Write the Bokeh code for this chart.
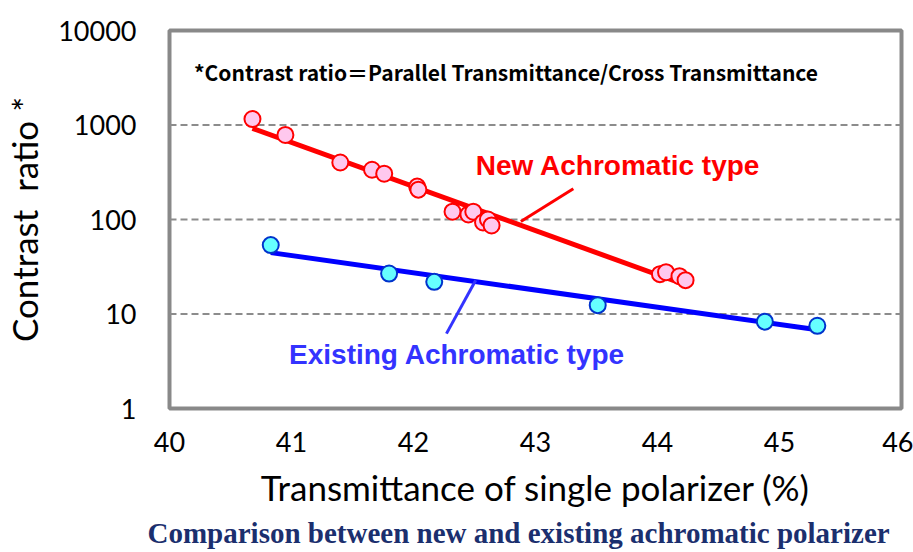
from bokeh.plotting import figure
from bokeh.models import FixedTicker, PrintfTickFormatter, Label, Title
from bokeh.embed import file_html
from bokeh.resources import INLINE

# ---- data ----
new_x = [40.68, 40.95, 41.40, 41.66, 41.76, 42.03, 42.04, 42.32, 42.45, 42.49,
         42.57, 42.61, 42.64, 44.02, 44.07, 44.18, 44.23]
new_y = [1156, 785, 401, 336, 305, 223, 207, 121, 113, 121,
         93, 100, 86.5, 26.4, 27.7, 25.1, 22.8]
old_x = [40.83, 41.80, 42.17, 43.51, 44.88, 45.31]
old_y = [53.6, 26.8, 21.9, 12.4, 8.3, 7.5]

new_fit_x = [40.68, 44.25]
new_fit_y = [923, 19.9]
old_fit_x = [40.83, 45.31]
old_fit_y = [44.6, 6.8]

new_call_x = [42.88, 43.31]
new_call_y = [95.3, 212]
old_call_x = [42.51, 42.27]
old_call_y = [22.8, 6.2]

x_ticks = [40, 41, 42, 43, 44, 45, 46]
y_ticks = [1, 10, 100, 1000, 10000]
grid_vals = [10, 100, 1000]

W, H = 913, 552
p = figure(width=W, height=H, output_backend="svg", toolbar_location=None,
           y_axis_type="log", x_range=(40, 46), y_range=(1, 10000),
           min_border_left=164, min_border_right=12, min_border_top=30,
           min_border_bottom=142)
p.background_fill_color = "white"
p.border_fill_color = "white"
p.outline_line_color = "#898989"
p.outline_line_width = 4

# axes
for ax in (p.xaxis[0], p.yaxis[0]):
    ax.axis_line_color = None
    ax.major_tick_line_color = None
    ax.minor_tick_line_color = None
    ax.major_label_text_font = "Lato"
    ax.major_label_text_font_size = "27px"
    ax.major_label_text_color = "black"
    ax.axis_label_text_font = "Lato"
    ax.axis_label_text_font_size = "35px"
    ax.axis_label_text_font_style = "normal"
    ax.axis_label_text_color = "black"

p.xaxis.ticker = FixedTicker(ticks=x_ticks)
p.yaxis.ticker = FixedTicker(ticks=y_ticks)
p.yaxis.formatter = PrintfTickFormatter(format="%d")
p.xaxis.major_label_standoff = 17
p.yaxis.major_label_standoff = 27
p.xaxis.axis_label = "Transmittance of single polarizer (%)"
p.yaxis.axis_label = "Contrast\u00a0\u00a0ratio *"
p.xaxis.axis_label_standoff = 11
p.yaxis.axis_label_standoff = 10

p.xgrid.grid_line_color = None
p.ygrid.grid_line_color = None
for g in grid_vals:
    p.line(x=[40, 46], y=[g, g], line_color="#8c8c8c", line_width=2, line_dash="7 4")

# fit lines
p.line(new_fit_x, new_fit_y, line_color="#ff0000", line_width=5)
p.line(old_fit_x, old_fit_y, line_color="#0000ff", line_width=5)

# callouts
p.line(new_call_x, new_call_y, line_color="#ff0000", line_width=3)
p.line(old_call_x, old_call_y, line_color="#3333ff", line_width=3)

# points
p.scatter(new_x, new_y, size=16, fill_color="#ffc8ee", line_color="#ff0000", line_width=2)
p.scatter(old_x, old_y, size=16, fill_color="#66ffff", line_color="#0033cc", line_width=2)

# texts
p.add_layout(Label(x=40.2, y=3610, text="*Contrast ratio\uff1dParallel Transmittance/Cross Transmittance",
                   text_font="Noto Sans CJK JP", text_font_style="bold", text_font_size="21px",
                   text_color="black", text_baseline="middle", text_align="left"))
p.add_layout(Label(x=42.51, y=370, text="New Achromatic type",
                   text_font="Liberation Sans", text_font_style="bold", text_font_size="28px",
                   text_color="#ff0000", text_baseline="middle", text_align="left"))
p.add_layout(Label(x=40.98, y=3.75, text="Existing Achromatic type",
                   text_font="Liberation Sans", text_font_style="bold", text_font_size="28px",
                   text_color="#3333ff", text_baseline="middle", text_align="left"))

p.add_layout(Title(text="Comparison between new and existing achromatic polarizer",
                   align="left", offset=-22, text_font="Liberation Serif", text_font_style="bold",
                   text_font_size="29px", text_color="#1b2f6e", standoff=8), "below")

open("out.html", "w").write(file_html(p, INLINE))
